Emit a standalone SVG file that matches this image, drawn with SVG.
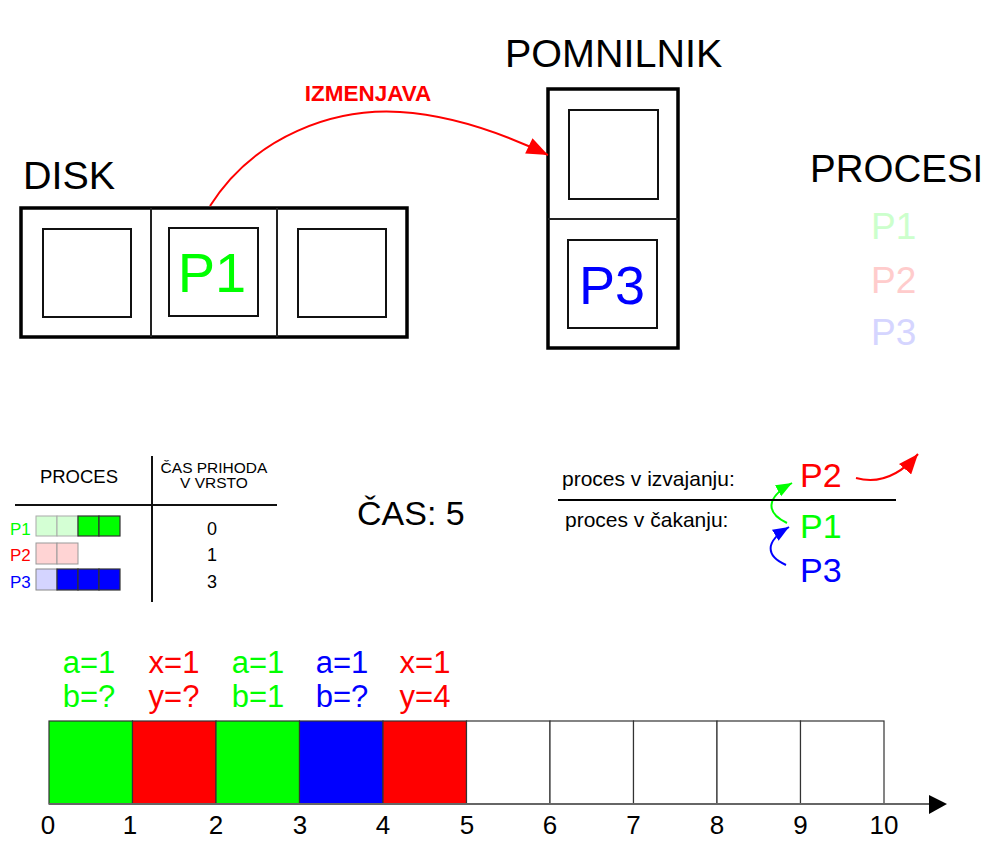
<svg xmlns="http://www.w3.org/2000/svg" width="1000" height="850" viewBox="0 0 1000 850">
<style>
text{font-family:"Liberation Sans",Arial,sans-serif;}
.outer{fill:#fff;stroke:#000;stroke-width:3.5;}
.div{stroke:#222;stroke-width:2;}
.inner{fill:#fff;stroke:#111;stroke-width:2;}
.cell{stroke:#333;stroke-width:1.2;}
.tl{fill:#fff;stroke:#333;stroke-width:1.2;}
.lg{fill:#d4ffd4;stroke:#aaa;stroke-width:1;}
.lr{fill:#ffd4d4;stroke:#999;stroke-width:1;}
.lb{fill:#d4d4ff;stroke:#888;stroke-width:1;}
.g{fill:#00ff00;}
.r{fill:#ff0000;}
.b{fill:#0000ff;}
</style>
<defs>
<marker id="ag" viewBox="0 0 10 8" refX="10" refY="4" markerWidth="16" markerHeight="14" orient="auto" markerUnits="userSpaceOnUse">
<path d="M0,0 L10,4 L0,8 z" fill="#00ff00"/>
</marker>
<marker id="ab" viewBox="0 0 10 8" refX="10" refY="4" markerWidth="16" markerHeight="14" orient="auto" markerUnits="userSpaceOnUse">
<path d="M0,0 L10,4 L0,8 z" fill="#0000ff"/>
</marker>
<marker id="ar2" viewBox="0 0 10 8" refX="10" refY="4" markerWidth="20" markerHeight="16" orient="auto" markerUnits="userSpaceOnUse">
<path d="M0,0 L10,4 L0,8 z" fill="#ff0000"/>
</marker>
<marker id="ar3" viewBox="0 0 10 8" refX="10" refY="4" markerWidth="22" markerHeight="17" orient="auto" markerUnits="userSpaceOnUse">
<path d="M0,0 L10,4 L0,8 z" fill="#ff0000"/>
</marker>
</defs>

<g id="disk">
<text x="23" y="189" font-size="39.5">DISK</text>
<rect class="outer" x="21" y="208" width="386" height="129"/>
<line class="div" x1="151" y1="208" x2="151" y2="337"/>
<line class="div" x1="277" y1="208" x2="277" y2="337"/>
<rect class="inner" x="43" y="229" width="88" height="88"/>
<rect class="inner" x="169" y="228" width="89" height="88"/>
<rect class="inner" x="298" y="229" width="88" height="88"/>
<text x="212" y="292" font-size="56" text-anchor="middle" class="g">P1</text>
</g>

<g id="pomnilnik">
<text x="505" y="67" font-size="39.5">POMNILNIK</text>
<rect class="outer" x="548" y="89" width="130" height="259"/>
<line class="div" x1="548" y1="219" x2="678" y2="219"/>
<rect class="inner" x="569" y="110" width="89" height="89"/>
<rect class="inner" x="568" y="240" width="89" height="88"/>
<text x="612" y="304" font-size="54" text-anchor="middle" class="b">P3</text>
</g>

<g id="procesi">
<text x="810" y="182" font-size="38.5">PROCESI</text>
<text x="871" y="239" font-size="37" fill="#ccffcc">P1</text>
<text x="871" y="293" font-size="37" fill="#ffcccc">P2</text>
<text x="871" y="345" font-size="37" fill="#d5d5ff">P3</text>
</g>

<g id="connectors">
<path d="M210,206 C255,135 335,108 400,112 C450,115 500,132 548,155" fill="none" stroke="#ff0000" stroke-width="2" marker-end="url(#ar3)"/>
<text x="368" y="101" font-size="22.5" font-weight="bold" text-anchor="middle" class="r">IZMENJAVA</text>
<path d="M856,478 Q890,487 918,454" fill="none" stroke="#ff0000" stroke-width="2" marker-end="url(#ar2)"/>
<path d="M787,523 C766,513 765,498 792,483" fill="none" stroke="#00ff00" stroke-width="2" marker-end="url(#ag)"/>
<path d="M786,565 C766,556 764,542 789,527" fill="none" stroke="#0000ff" stroke-width="2" marker-end="url(#ab)"/>
</g>

<g id="table">
<line x1="152" y1="456" x2="152" y2="602" stroke="#111" stroke-width="2"/>
<line x1="15" y1="505" x2="277" y2="505" stroke="#111" stroke-width="2"/>
<text x="79" y="483" font-size="18.5" text-anchor="middle">PROCES</text>
<text x="214" y="473" font-size="15.5" text-anchor="middle">ČAS PRIHODA</text>
<text x="214" y="488" font-size="15.5" text-anchor="middle">V VRSTO</text>
<text x="10" y="535" font-size="17" class="g">P1</text>
<text x="10" y="561" font-size="17" class="r">P2</text>
<text x="10" y="588" font-size="17" class="b">P3</text>
<rect class="lg" x="36" y="516" width="21" height="20"/>
<rect class="lg" x="57" y="516" width="21" height="20"/>
<rect class="cell g" x="78" y="516" width="21" height="20"/>
<rect class="cell g" x="99" y="516" width="21" height="20"/>
<rect class="lr" x="36" y="543" width="21" height="21"/>
<rect class="lr" x="57" y="543" width="21" height="21"/>
<rect class="lb" x="36" y="569" width="21" height="21"/>
<rect class="cell b" x="57" y="569" width="21" height="21"/>
<rect class="cell b" x="78" y="569" width="21" height="21"/>
<rect class="cell b" x="99" y="569" width="21" height="21"/>
<text x="212" y="535" font-size="18" text-anchor="middle">0</text>
<text x="212" y="561" font-size="18" text-anchor="middle">1</text>
<text x="212" y="588" font-size="18" text-anchor="middle">3</text>
</g>

<g id="cas">
<text x="357" y="525" font-size="34">ČAS: 5</text>
</g>

<g id="queue">
<text x="562" y="486" font-size="21">proces v izvajanju:</text>
<line x1="558" y1="500" x2="896" y2="500" stroke="#000" stroke-width="2"/>
<text x="565" y="527" font-size="21">proces v čakanju:</text>
<text x="800" y="487" font-size="34" class="r">P2</text>
<text x="800" y="538" font-size="34" class="g">P1</text>
<text x="800" y="582" font-size="34" class="b">P3</text>
</g>

<g id="timeline">
<rect class="cell g" x="49" y="721" width="83.5" height="83"/>
<rect class="cell r" x="132.5" y="721" width="83.5" height="83"/>
<rect class="cell g" x="216" y="721" width="83.5" height="83"/>
<rect class="cell b" x="299.5" y="721" width="83.5" height="83"/>
<rect class="cell r" x="383" y="721" width="83.5" height="83"/>
<rect class="tl" x="466.5" y="721" width="83.5" height="83"/>
<rect class="tl" x="550" y="721" width="83.5" height="83"/>
<rect class="tl" x="633.5" y="721" width="83.5" height="83"/>
<rect class="tl" x="717" y="721" width="83.5" height="83"/>
<rect class="tl" x="800.5" y="721" width="83.5" height="83"/>
<line x1="49" y1="804" x2="932" y2="804" stroke="#666" stroke-width="2"/>
<polygon points="929,795 947,804 929,814" fill="#000"/>
<g font-size="26" text-anchor="middle">
<text x="48" y="834">0</text>
<text x="130" y="834">1</text>
<text x="216" y="834">2</text>
<text x="300" y="834">3</text>
<text x="383" y="834">4</text>
<text x="467" y="834">5</text>
<text x="550" y="834">6</text>
<text x="633.5" y="834">7</text>
<text x="717" y="834">8</text>
<text x="800.5" y="834">9</text>
<text x="884" y="834">10</text>
</g>
<g font-size="31" text-anchor="middle">
<text x="89" y="673" class="g">a=1</text>
<text x="89" y="707" class="g">b=?</text>
<text x="174" y="673" class="r">x=1</text>
<text x="174" y="707" class="r">y=?</text>
<text x="258" y="673" class="g">a=1</text>
<text x="258" y="707" class="g">b=1</text>
<text x="342" y="673" class="b">a=1</text>
<text x="342" y="707" class="b">b=?</text>
<text x="425" y="673" class="r">x=1</text>
<text x="425" y="707" class="r">y=4</text>
</g>
</g>
</svg>
